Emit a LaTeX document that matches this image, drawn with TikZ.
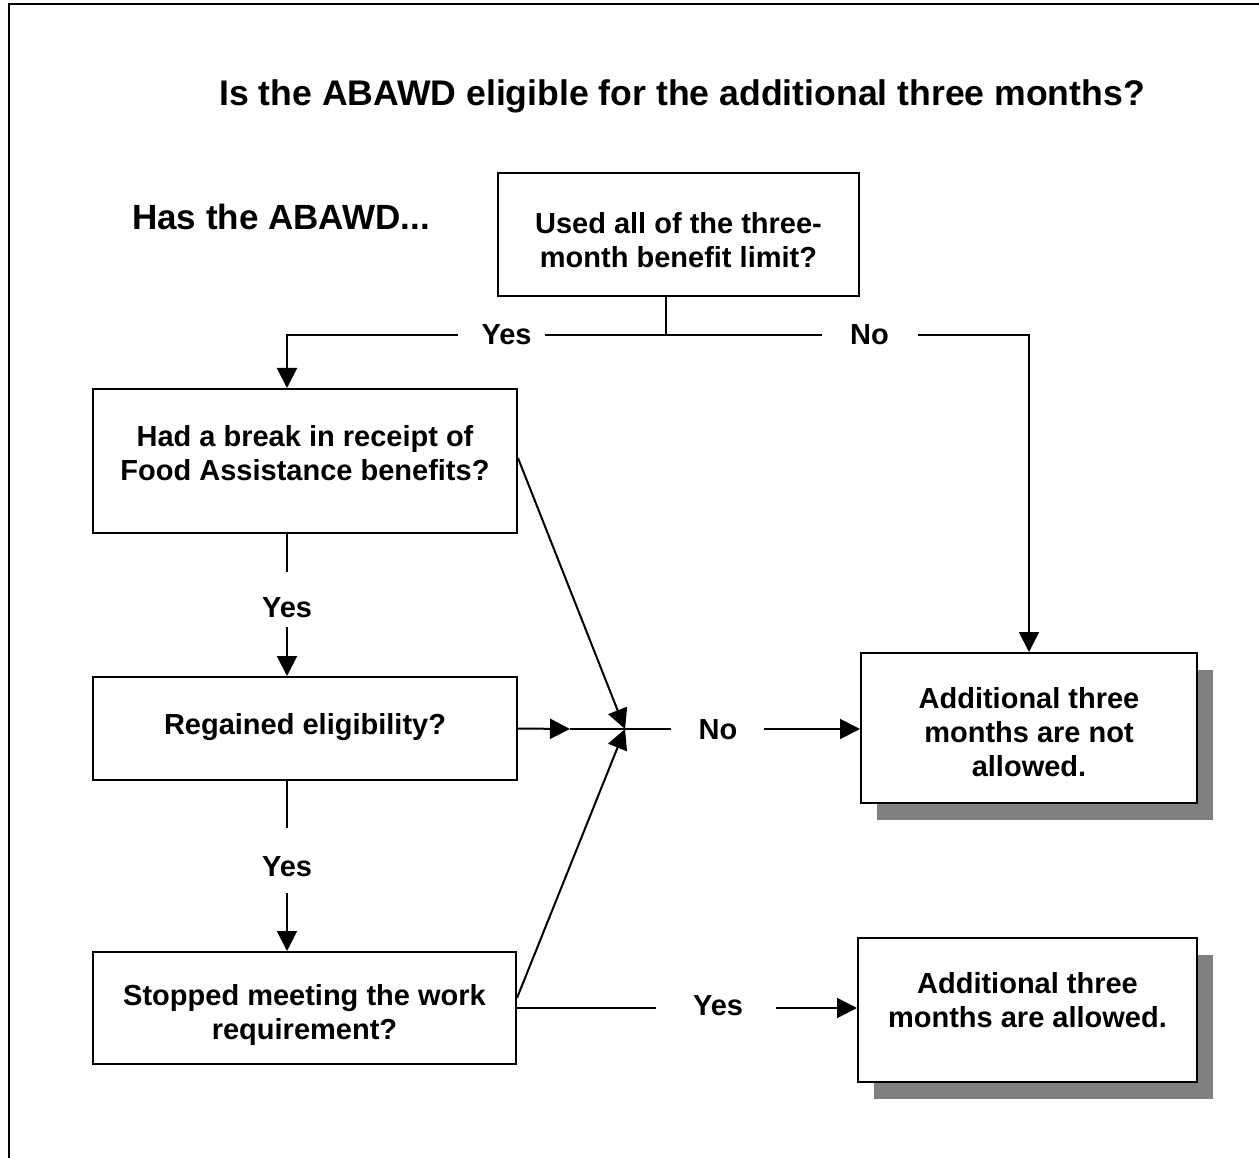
\documentclass[tikz,border=0pt]{standalone}
\usepackage{fontspec}
\setmainfont{Liberation Sans}
\usetikzlibrary{arrows.meta,shadows}
\definecolor{shgray}{HTML}{808080}
\newcommand{\boxtxt}[2]{\raisebox{#1}[0pt][0pt]{\begin{tabular}{@{}c@{}}#2\end{tabular}}}
\begin{document}
\begin{tikzpicture}[x=1pt,y=-1pt,
  bodyfont/.style={font=\fontsize{29}{34}\selectfont\bfseries},
  qbox/.style={draw, line width=2pt, fill=white, inner sep=0pt, bodyfont},
  endbox/.style={qbox, drop shadow={shadow xshift=16pt, shadow yshift=-17pt, fill=shgray, opacity=1}},
  lbl/.style={inner sep=0pt, bodyfont},
  conn/.style={line width=2pt},
  arr/.style={-{Triangle[length=20pt,width=20pt]}},
  headfont/.style={font=\fontsize{35}{40}\selectfont\bfseries},
  titlefont/.style={font=\fontsize{35.6}{40}\selectfont\bfseries}
]
\useasboundingbox (0,0) rectangle (1259,1158);
\draw[line width=2.5pt] (9,1158) -- (9,4) -- (1259,4);

\node[titlefont, anchor=base west, inner sep=0pt] (title) at (219,106) {Is the ABAWD eligible for the additional three months?};
\node[headfont, anchor=base west, inner sep=0pt] (has) at (132,230) {Has the ABAWD...};

\node[qbox, minimum width=361pt, minimum height=123pt] (b1) at (678.5,234.5) {\boxtxt{-15pt}{Used all of the three-\\month benefit limit?}};
\node[qbox, minimum width=424pt, minimum height=144pt] (b2) at (305,461) {\boxtxt{-2pt}{Had a break in receipt of\\Food Assistance benefits?}};
\node[qbox, minimum width=424pt, minimum height=103pt] (b3) at (305,728.5) {\boxtxt{-5pt}{Regained eligibility?}};
\node[qbox, minimum width=423pt, minimum height=112pt] (b4) at (304.5,1008) {\boxtxt{-13.5pt}{Stopped meeting the work\\requirement?}};
\node[endbox, minimum width=336pt, minimum height=150pt] (b5) at (1029,728) {\boxtxt{-14pt}{Additional three\\months are not\\allowed.}};
\node[endbox, minimum width=339pt, minimum height=144pt] (b6) at (1027.5,1010) {\boxtxt{0pt}{Additional three\\months are allowed.}};

\node[lbl] (yesA) at (506.5,335) {Yes};
\node[lbl] (noA) at (869.5,335) {No};
\node[lbl] (yesB) at (287,608) {Yes};
\node[lbl] (yesC) at (287,866.5) {Yes};
\node[lbl] (noB) at (718,730) {No};
\node[lbl] (yesD) at (718,1006) {Yes};

\coordinate (j1) at (666,335);
\coordinate (j2) at (625,729);
\coordinate (m) at (570,729);

\draw[conn] (j1 |- b1.south) -- (j1);
\draw[conn] (j1) -- ([xshift=13pt]yesA.east);
\draw[conn,arr] ([xshift=-23pt]yesA.west) -| (yesB |- b2.north);
\draw[conn] (j1) -- ([xshift=-28pt]noA.west);
\draw[conn,arr] ([xshift=29pt]noA.east) -| (b5.north);

\draw[conn] (yesB |- b2.south) -- ([yshift=26pt]yesB.north);
\draw[conn,arr] ([yshift=-9pt]yesB.south) -- (yesB |- b3.north);
\draw[conn] (yesC |- b3.south) -- ([yshift=28pt]yesC.north);
\draw[conn,arr] ([yshift=-16pt]yesC.south) -- (yesC |- b4.north);

\draw[conn,arr] ([yshift=3pt]b2.east) -- (j2);
\draw[conn,arr] ([yshift=10pt]b4.east) -- (j2);
\draw[conn,arr] (b3.east) -- (m);
\draw[conn] (m) -- ([xshift=-27pt]noB.west |- m);
\draw[conn,arr] ([xshift=26pt]noB.east |- m) -- (m -| b5.west);

\draw[conn] (b4.east) -- ([xshift=-37pt]yesD.west |- b4.east);
\draw[conn,arr] ([xshift=33pt]yesD.east |- b4.east) -- (b4.east -| b6.west);
\end{tikzpicture}
\end{document}
